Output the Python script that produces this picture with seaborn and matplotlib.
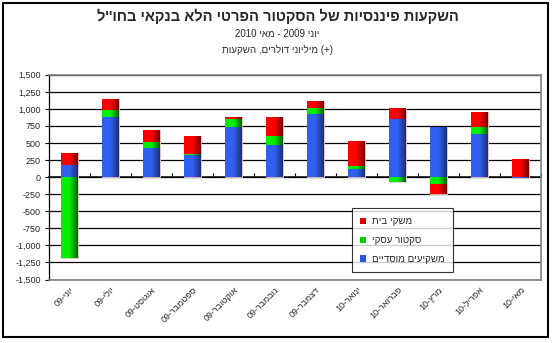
import re
import numpy as np
import pandas as pd
import seaborn as sns
import matplotlib
matplotlib.use("Agg")
import matplotlib.pyplot as plt
from matplotlib.patches import Patch, Rectangle
from matplotlib.colors import LinearSegmentedColormap
from matplotlib.ticker import FuncFormatter, FixedLocator

# ---- data (millions of dollars) ----
months = ["יוני", "יולי", "אוגוסט", "ספטמבר", "אוקטובר", "נובמבר",
          "דצמבר", "ינואר", "פברואר", "מרץ", "אפריל", "מאי"]
years = ["09", "09", "09", "09", "09", "09", "09", "10", "10", "10", "10", "10"]
institutional = [175, 880, 420, 320, 740, 470, 925, 125, 845, 730, 635, -10]
business = [-1190, 110, 90, 15, 105, 130, 85, 35, -75, -95, 95, 0]
households = [180, 150, 185, 270, 40, 280, 105, 375, 165, -155, 230, 260]

series_names = ["משקיעים מוסדיים", "סקטור עסקי", "משקי בית"]
title = "השקעות פיננסיות של הסקטור הפרטי הלא בנקאי בחו''ל"
subtitle = "יוני 2009 - מאי 2010"
units = "מיליוני דולרים, השקעות"
y_ticks = list(range(-1500, 1501, 250))


def rtl(s):
    """Visual (left-to-right) order for a Hebrew string, keeping numbers intact."""
    out = s[::-1]
    out = re.sub(r"\d+", lambda m: m.group(0)[::-1], out)
    return out.translate(str.maketrans("()", ")("))


labels = [f"{y}-{m[::-1]}" for m, y in zip(months, years)]

sns.set_theme(style="white")
plt.rcParams["font.family"] = ["Liberation Sans", "DejaVu Sans"]

fig = plt.figure(figsize=(5.55, 3.43), dpi=100)
ax = fig.add_axes([0.0883, 0.185, 0.8865, 0.597])

layers = [
    (institutional, "#3060f0", "#1a2f7a"),
    (business, "#00f000", "#006400"),
    (households, "#ff0000", "#7a0000"),
]

pos_base = np.zeros(len(months))
neg_base = np.zeros(len(months))
drawn = []
for vals, c_light, c_dark in layers:
    v = np.asarray(vals, dtype=float)
    bottom = np.where(v >= 0, pos_base, neg_base)
    df = pd.DataFrame({"month": labels, "value": v})
    n_before = len(ax.patches)
    sns.barplot(data=df, x="month", y="value", bottom=bottom, color=c_light,
                saturation=1, width=0.4, ax=ax, zorder=3, linewidth=0.6,
                edgecolor="#f4c8c8")
    drawn.append((ax.patches[n_before:], c_light, c_dark))
    pos_base = pos_base + np.where(v > 0, v, 0)
    neg_base = neg_base + np.where(v < 0, v, 0)

# horizontal shading across each bar
for patches, c_light, c_dark in drawn:
    cmap = LinearSegmentedColormap.from_list("shade", [c_light, c_light, c_dark])
    grad = np.linspace(0, 1, 64).reshape(1, -1)
    for p in patches:
        x0, y0 = p.get_x(), p.get_y()
        w, h = p.get_width(), p.get_height()
        if h == 0:
            continue
        im = ax.imshow(grad, cmap=cmap, aspect="auto", zorder=3.5,
                       extent=[x0, x0 + w, min(y0, y0 + h), max(y0, y0 + h)])
        im.set_clip_path(p)

ax.set_xlim(-0.5, len(months) - 0.5)
ax.set_ylim(-1500, 1500)

# axes styling
ax.yaxis.set_major_locator(FixedLocator(y_ticks))
ax.yaxis.set_major_formatter(FuncFormatter(lambda v, _: f"{v:,.0f}"))
ax.grid(axis="y", color="black", linewidth=0.9, zorder=1)
ax.grid(axis="x", visible=False)
for side in ["top", "right", "bottom"]:
    ax.spines[side].set_color("#808080")
    ax.spines[side].set_linewidth(1.2)
ax.spines["left"].set_color("black")
ax.spines["left"].set_linewidth(0.9)
ax.tick_params(axis="y", left=True, length=3, width=0.8, color="black",
               labelsize=6.5, pad=3, direction="out")
ax.tick_params(axis="x", bottom=False, length=0, labelsize=6.5, pad=4)
plt.setp(ax.get_xticklabels(), rotation=45, ha="right", rotation_mode="anchor")
ax.set_xlabel("")
ax.set_ylabel("")

# category axis drawn through zero
zero_axis = ax.secondary_xaxis(0.5)
zero_axis.set_xticks(np.arange(len(months) + 1) - 0.5)
zero_axis.set_xticklabels([])
zero_axis.tick_params(axis="x", length=3, width=0.8, color="black", direction="out")
zero_axis.spines["bottom"].set_color("black")
zero_axis.spines["bottom"].set_linewidth(0.9)

# legend
handles = [Patch(facecolor=c, edgecolor="none") for c in ["#e00000", "#00d000", "#2a55e0"]]
leg_labels = [rtl(series_names[2]), rtl(series_names[1]), rtl(series_names[0])]
leg = ax.legend(handles, leg_labels, loc="upper left", bbox_to_anchor=(0.616, 0.349),
                frameon=True, fancybox=False, fontsize=7, handlelength=0.6,
                handleheight=0.6, handletextpad=0.6, labelspacing=0.9,
                borderpad=0.85, borderaxespad=0)
leg.get_frame().set_edgecolor("black")
leg.get_frame().set_linewidth(0.8)
leg.set_zorder(10)

# titles
fig.text(0.5, 1 - 16 / 343, rtl(title), ha="center", va="center",
         fontsize=10.5, fontweight="bold")
fig.text(0.5, 1 - 34 / 343, rtl(subtitle), ha="center", va="center", fontsize=7)
fig.text(0.5, 1 - 50 / 343, rtl(units) + " (+)", ha="center", va="center", fontsize=7)

# outer chart frame
fig.patches.append(Rectangle((3 / 555, 6 / 343), 545 / 555, 334 / 343,
                             transform=fig.transFigure, fill=False,
                             edgecolor="black", linewidth=1.5))

fig.savefig("out.png", dpi=100)
